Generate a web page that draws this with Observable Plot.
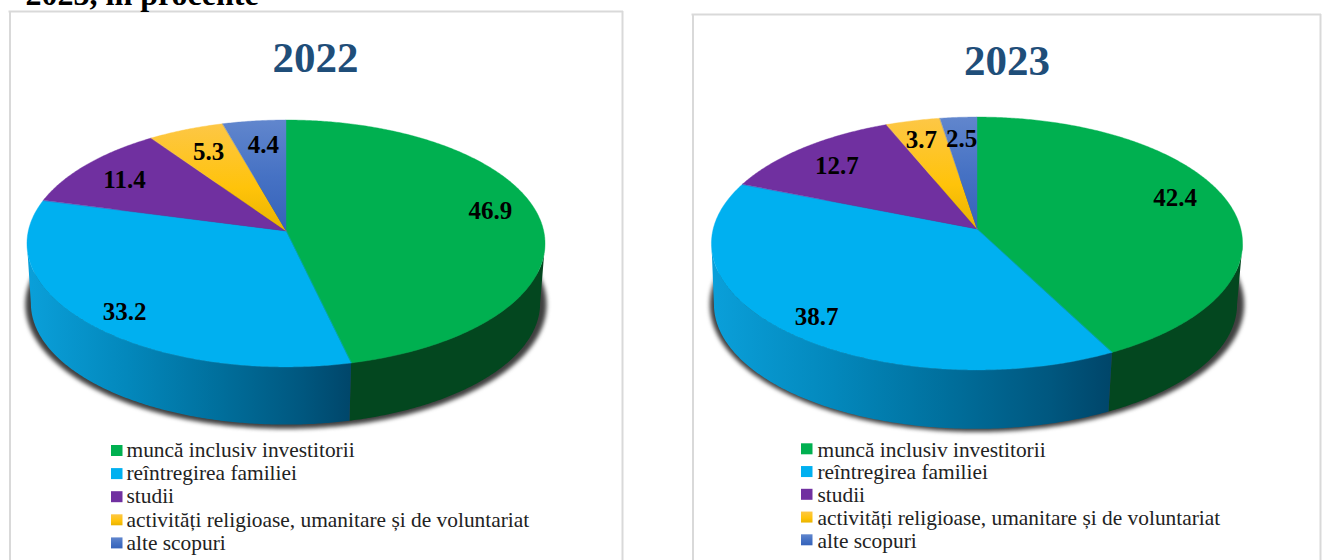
<!DOCTYPE html>
<html lang="ro">
<head>
<meta charset="utf-8">
<script src="https://cdn.jsdelivr.net/npm/d3@7"></script>
<script src="https://cdn.jsdelivr.net/npm/@observablehq/plot@0.6"></script>
<style>html,body{margin:0;padding:0;background:#fff;overflow:hidden}</style>
</head>
<body>
<div id="chart"></div>
<script>
// ---- data ----
const categories = ["muncă inclusiv investitorii", "reîntregirea familiei", "studii",
  "activități religioase, umanitare și de voluntariat", "alte scopuri"];
const values2022 = [46.9, 33.2, 11.4, 5.3, 4.4];
const values2023 = [42.4, 38.7, 12.7, 3.7, 2.5];
const headingText = "2023, în procente";

// ---- styles ----
const topPaint = ["#00B050", "#00B0F0", "#7030A0", "url(#gradYellow)", "url(#gradBlue)"];
const SERIF = "Liberation Serif";

// ---- layout: each pie is a tilted disk (perspective k) ----
const pie2022 = {
  year: "2022", values: values2022, cx: 286, cy: 231, R: 257.7, S: 122.2, k: 0.101,
  baseScale: 0.983, baseDy: 60, baseDx: -0.5, shadowDy: 61,
  wallId: "wall2022", wallX: [30, 351],
  labelRadius: [0.824, 0.851, 0.788, 0.772, 0.764], labelShift: [-5.6, -2.1, -1.6, 0.3, 0.6],
  titleX: 315, titleY: 58,
  frame: {left: 9.5, right: 622, top: 11},
  swatchX: 111, swatchY: 445, rowStep: 23.1, legendX: 126, legendY: 449.9
};
const pie2023 = {
  year: "2023", values: values2023, cx: 977, cy: 229, R: 263.8, S: 124.8, k: 0.1146,
  baseScale: 0.985, baseDy: 61, baseDx: -1.5, shadowDy: 61,
  wallId: "wall2023", wallX: [714, 1110],
  labelRadius: [0.814, 0.8605, 0.784, 0.8196, 0.798], labelShift: [-4.85, -1.3, -1.1, -0.8, -0.2],
  titleX: 1006.5, titleY: 61,
  frame: {left: 692.5, right: 1320, top: 14},
  swatchX: 801, swatchY: 443.3, rowStep: 22.75, legendX: 817, legendY: 449.2
};
const pies = [pie2022, pie2023];

// disk coordinates -> picture coordinates, angle in degrees clockwise from the top
function place(p, deg, rho = 1, s = 1, dy = 0, dx = 0) {
  const a = deg * Math.PI / 180, u = rho * Math.sin(a), v = -rho * Math.cos(a), w = 1 - p.k * v;
  return [p.cx + dx + s * p.R * u / w, p.cy + dy + s * p.S * v / w];
}
function sweep(a, b) {
  const n = Math.max(2, Math.ceil(Math.abs(b - a) * 2));
  return d3.range(n + 1).map(i => a + (b - a) * i / n);
}
function slices(p) {
  return d3.pie().sort(null).startAngle(0).endAngle(2 * Math.PI)(p.values).map((d, i) => ({
    i, start: d.startAngle * 180 / Math.PI, end: d.endAngle * 180 / Math.PI, value: d.value
  }));
}

function pieMarks(p) {
  const parts = slices(p);
  const marks = [];
  // where the disk's outline turns from back to front
  const turn = Math.asin(p.k) * 180 / Math.PI;
  // soft shadow under the disk
  marks.push(Plot.area(sweep(0, 360), {
    x1: d => place(p, d, 1, 1.006, p.shadowDy)[0], y1: d => place(p, d, 1, 1.006, p.shadowDy)[1],
    x2: () => p.cx, y2: () => p.cy + p.shadowDy,
    fill: "#3f3f3f", imageFilter: "blur(2.2px)", curve: "linear"
  }));
  // side wall of the front half
  for (const s of parts) {
    const a = Math.max(s.start, 90 + turn), b = Math.min(s.end, 270 - turn);
    if (b <= a) continue;
    marks.push(Plot.area(sweep(a, b), {
      x1: d => place(p, d)[0], y1: d => place(p, d)[1],
      x2: d => place(p, d, 1, p.baseScale, p.baseDy, p.baseDx)[0],
      y2: d => place(p, d, 1, p.baseScale, p.baseDy, p.baseDx)[1],
      fill: s.i === 0 ? "#03471F" : `url(#${p.wallId})`, curve: "linear"
    }));
  }
  // top face
  for (const s of parts) {
    marks.push(Plot.area(sweep(s.start, s.end), {
      x1: d => place(p, d)[0], y1: d => place(p, d)[1],
      x2: () => p.cx, y2: () => p.cy,
      fill: topPaint[s.i], stroke: topPaint[s.i], strokeWidth: 0.4, curve: "linear"
    }));
  }
  // value labels
  marks.push(Plot.text(parts, {
    x: s => place(p, (s.start + s.end) / 2 + p.labelShift[s.i], p.labelRadius[s.i])[0],
    y: s => place(p, (s.start + s.end) / 2 + p.labelShift[s.i], p.labelRadius[s.i])[1],
    text: s => s.value.toFixed(1),
    fontFamily: SERIF, fontWeight: "bold", fontSize: 25, fill: "#000"
  }));
  // year title
  marks.push(Plot.text([p.year], {
    x: () => p.titleX, y: () => p.titleY, text: d => d,
    fontFamily: SERIF, fontWeight: "bold", fontSize: 43, fill: "#1F4E79"
  }));
  // legend
  marks.push(...categories.map((c, i) => Plot.rect([c], {
    x1: () => p.swatchX, x2: () => p.swatchX + 11.5,
    y1: () => p.swatchY + i * p.rowStep, y2: () => p.swatchY + i * p.rowStep + 11,
    fill: topPaint[i]
  })));
  marks.push(Plot.text(categories, {
    x: () => p.legendX, y: (c, i) => p.legendY + i * p.rowStep, text: d => d,
    textAnchor: "start", fontFamily: SERIF, fontSize: 21.4, fill: "#222"
  }));
  // frame of the panel, open at the bottom of the page
  marks.push(Plot.ruleX([p.frame.left, p.frame.right], {y1: p.frame.top, y2: 560, stroke: "#D9D9D9", strokeWidth: 2}));
  marks.push(Plot.ruleY([p.frame.top], {x1: p.frame.left - 1, x2: p.frame.right + 1, stroke: "#D9D9D9", strokeWidth: 2}));
  return marks;
}

// gradient definitions used by the marks above
function gradients() {
  const defs = d3.create("svg:defs");
  const grad = (id, attrs, stops) => {
    const g = defs.append("linearGradient").attr("id", id);
    for (const k in attrs) g.attr(k, attrs[k]);
    for (const [o, c] of stops) g.append("stop").attr("offset", o).attr("stop-color", c);
  };
  grad("gradYellow", {x1: 0, y1: 0, x2: 0, y2: 1}, [[0, "#FDC746"], [0.6, "#FFC30A"], [1, "#E8B300"]]);
  grad("gradBlue", {x1: 0, y1: 0, x2: 0, y2: 1}, [[0, "#6186CD"], [0.5, "#4672C4"], [1, "#3562BA"]]);
  for (const p of pies) {
    grad(p.wallId, {gradientUnits: "userSpaceOnUse", x1: p.wallX[0], x2: p.wallX[1], y1: 0, y2: 0},
      [[0, "#0A9FD9"], [0.3, "#0388BC"], [0.6, "#006E9B"], [0.85, "#00577F"], [1, "#00466A"]]);
  }
  return defs.node();
}

const chart = Plot.plot({
  width: 1324, height: 560,
  marginTop: 0, marginRight: 0, marginBottom: 0, marginLeft: 0,
  x: {domain: [0, 1324], range: [0, 1324], axis: null},
  y: {domain: [0, 560], range: [0, 560], axis: null},
  style: {background: "#fff"},
  marks: [
    gradients,
    ...pies.flatMap(pieMarks),
    Plot.text([headingText], {
      x: () => 25, y: () => -5.5, text: d => d, textAnchor: "start",
      fontFamily: SERIF, fontWeight: "bold", fontSize: 32, fill: "#000"
    })
  ]
});
document.getElementById("chart").appendChild(chart);
</script>
</body>
</html>
